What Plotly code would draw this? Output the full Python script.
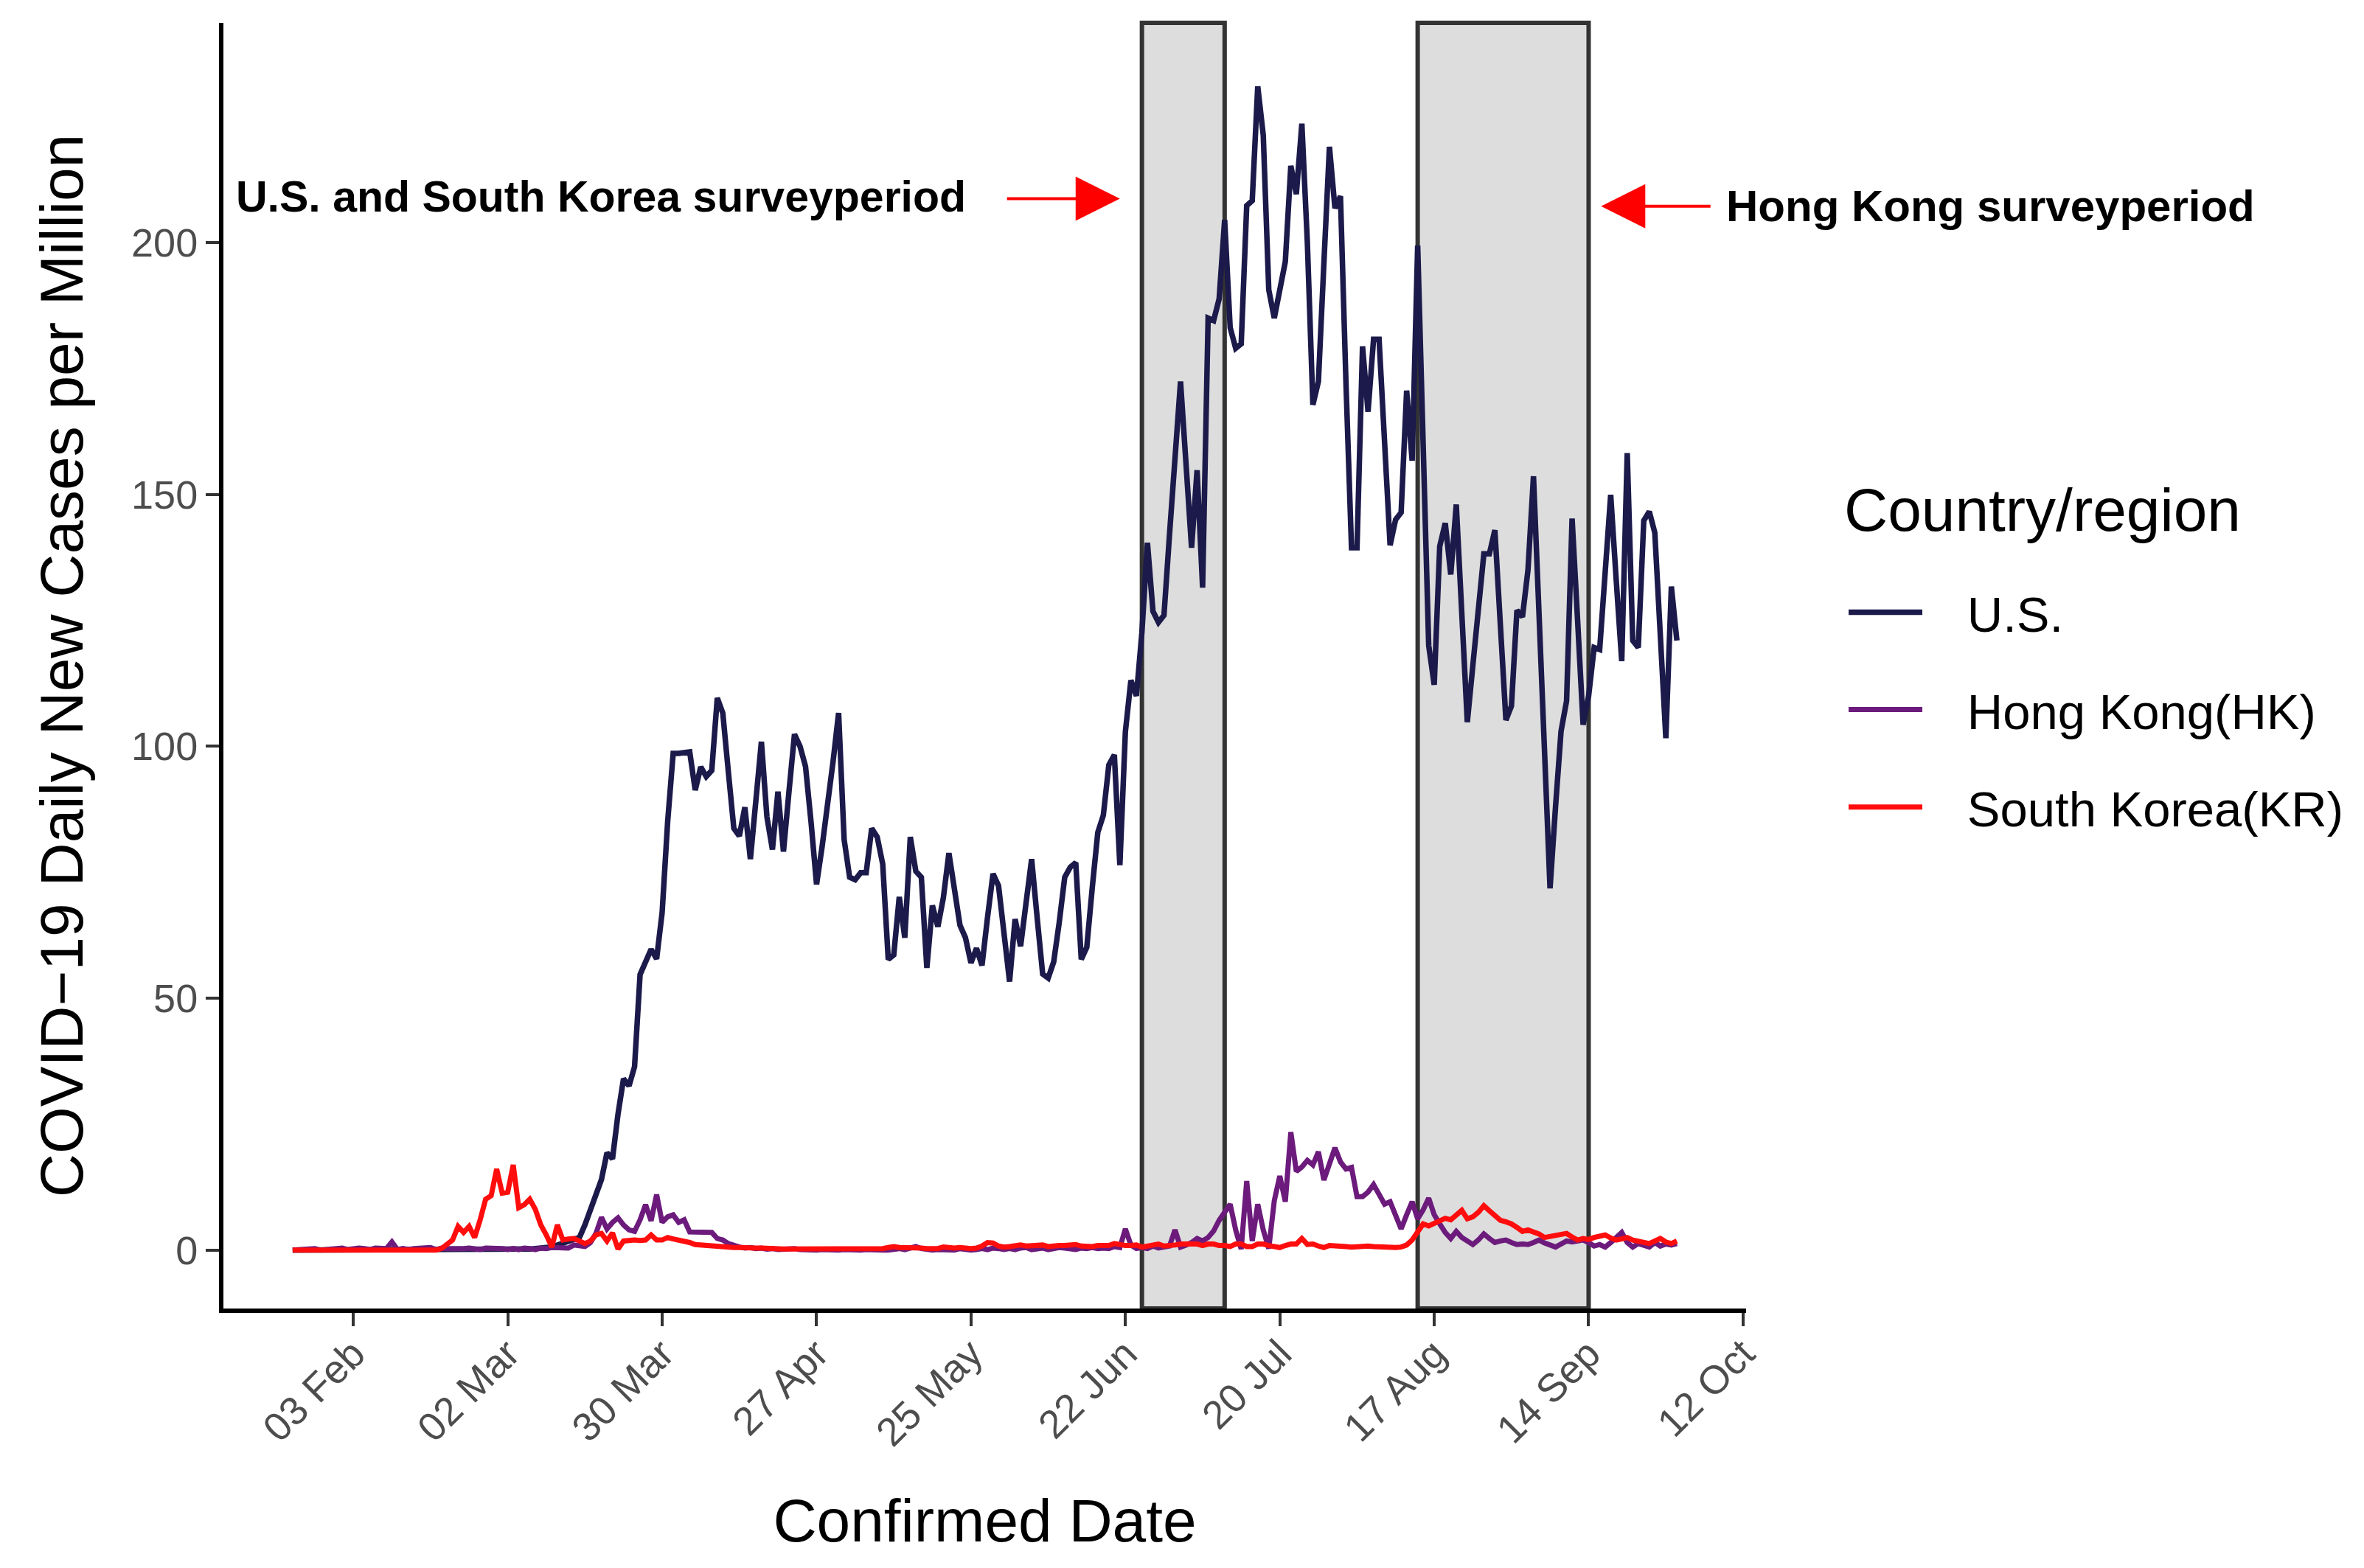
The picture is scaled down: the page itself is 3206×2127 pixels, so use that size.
import pandas as pd
import plotly.graph_objects as go

# daily new cases per million, 23 Jan - 30 Sep 2020
dates = pd.date_range("2020-01-23", "2020-09-30", freq="D")

us_cases = [
    0, 0, 0, 0, 0, 0, 0, 0, 0,  # Jan
    0, 0, 0, 0, 0, 0, 0, 0, 0, 0, 0, 0, 0, 0, 0, 0, 0, 0, 0, 0, 0, 0, 0, 0, 0, 0, 0, 0, 0,  # Feb
    0.0, 0.0, 0.1, 0.1, 0.2, 0.2, 0.3, 0.3, 0.5, 0.6, 1.0, 1.3, 1.7, 2.0, 2.5, 5.0, 8.0, 10.5, 14.0, 19.3,
    18.1, 27.0, 34.0, 32.6, 36.4, 54.7, 57.0, 59.7, 57.8, 67.0, 85.0,  # Mar
    98.6, 98.6, 98.8, 98.9, 91.3, 95.9, 94.0, 95.2, 109.6, 106.6, 95.0, 83.7, 82.2, 87.9, 77.6,
    89.0, 100.9, 86.0, 79.5, 91.0, 79.1, 91.0, 102.4, 100.0, 96.0, 85.0, 72.6, 80.0, 88.0, 97.0,  # Apr
    106.6, 81.5, 74.0, 73.5, 74.9, 74.9, 83.7, 82.0, 76.6, 57.7, 58.6, 70.1, 62.0, 82.0, 75.2, 74.0,
    56.0, 68.4, 64.2, 70.0, 78.8, 72.0, 64.5, 62.0, 57.0, 59.9, 56.5, 66.0, 74.7, 72.3, 62.0,  # May
    53.3, 65.7, 60.3, 69.0, 77.6, 66.0, 54.8, 54.0, 57.2, 65.0, 74.0, 76.0, 76.9, 57.7, 60.1,
    72.0, 82.9, 86.3, 96.3, 98.3, 76.4, 102.9, 113.1, 110.0, 122.7, 140.4, 126.8, 124.6, 126.0, 142.0,  # Jun
    157.0, 172.4, 156.0, 139.4, 154.8, 131.5, 185.0, 184.5, 188.8, 204.5, 183.1, 179.0, 179.9, 207.3, 208.3, 231.0,
    221.3, 190.6, 185.0, 190.6, 196.2, 215.2, 209.6, 223.6, 199.9, 167.8, 172.4, 196.0, 219.0, 206.8, 209.2,  # Jul
    172.0, 139.4, 139.4, 179.4, 166.4, 180.8, 180.8, 160.0, 139.9, 145.0, 146.4, 170.6, 156.7, 199.4, 155.0, 120.0,
    112.2, 139.7, 144.3, 134.1, 148.0, 126.0, 104.8, 116.0, 127.0, 138.2, 138.2, 142.9, 124.0, 105.2, 108.0,  # Aug
    127.0, 125.7, 135.0, 153.6, 126.0, 99.0, 71.8, 88.0, 103.0, 109.0, 145.2, 125.0, 104.3, 110.0, 119.6,
    119.2, 134.0, 149.9, 133.0, 116.9, 158.2, 121.0, 119.6, 144.8, 146.6, 142.4, 122.0, 101.6, 131.7, 121.0,  # Sep
]

hk_cases = [
    0.0, 0.1, 0.1, 0.1, 0.3, 0.0, 0.1, 0.0, 0.1,  # Jan
    0.4, 0.1, 0.3, 0.4, 0.3, 0.1, 0.4, 0.3, 0.3, 1.6, 0.1, 0.3, 0.1, 0.3, 0.4,
    0.3, 0.5, 0.1, 0.4, 0.3, 0.3, 0.1, 0.3, 0.4, 0.3, 0.1, 0.4, 0.4, 0.3,  # Feb
    0.3, 0.1, 0.3, 0.1, 0.4, 0.3, 0.1, 0.4, 0.3, 0.5, 0.4, 0.3, 0.4, 1.0, 0.8, 0.7,
    1.5, 3.3, 6.5, 4.2, 5.5, 6.4, 5.0, 4.0, 3.7, 6.0, 9.0, 5.8, 11.0, 5.5, 6.6,  # Mar
    7.0, 5.5, 6.0, 3.6, 3.6, 3.7, 3.6, 3.5, 2.3, 2.0, 1.3, 0.9, 0.6, 0.4, 0.5,
    0.3, 0.4, 0.2, 0.3, 0.1, 0.2, 0.1, 0.3, 0.1, 0.0, 0.1, 0.0, 0.1, 0.0, 0.1,  # Apr
    0.0, 0.1, 0.0, 0.1, 0.0, 0.1, 0.0, 0.1, 0.0, 0.0, 0.1, 0.3, 0.1, 0.5, 0.7, 0.3,
    0.1, 0.0, 0.1, 0.0, 0.1, 0.0, 0.3, 0.1, 0.0, 0.1, 0.3, 0.1, 0.4, 0.3, 0.1,  # May
    0.3, 0.1, 0.4, 0.5, 0.1, 0.3, 0.4, 0.1, 0.3, 0.5, 0.4, 0.3, 0.1, 0.4, 0.3,
    0.5, 0.3, 0.4, 0.3, 0.7, 0.5, 4.2, 1.0, 0.3, 0.5, 0.3, 0.8, 0.4, 0.5, 0.8,  # Jun
    4.0, 0.6, 1.0, 1.5, 2.3, 1.8, 2.5, 3.8, 5.9, 7.5, 9.1, 4.0, 0.2, 13.7, 1.8, 9.1,
    4.0, 0.3, 9.8, 14.7, 9.6, 23.4, 15.6, 16.5, 17.8, 16.9, 19.5, 13.9, 17.0, 20.3, 17.5,  # Jul
    16.1, 16.4, 10.6, 10.6, 11.5, 13.0, 11.0, 9.1, 9.6, 7.0, 4.2, 7.0, 9.6, 6.2, 8.0, 10.3,
    7.0, 5.2, 3.5, 2.3, 3.7, 2.5, 1.8, 1.1, 2.0, 3.2, 2.3, 1.5, 1.8, 2.0, 1.5,  # Aug
    1.1, 1.2, 1.1, 1.5, 2.0, 1.4, 0.9, 0.6, 1.2, 1.8, 1.6, 1.9, 2.0, 1.5, 0.8,
    1.1, 0.6, 1.5, 2.5, 3.5, 1.5, 0.6, 1.3, 0.9, 0.6, 1.5, 0.8, 1.2, 1.0, 1.3,  # Sep
]

kr_cases = [
    0.0, 0.0, 0.0, 0.0, 0.0, 0.0, 0.0, 0.0, 0.0,  # Jan
    0.0, 0.1, 0.0, 0.0, 0.0, 0.0, 0.0, 0.0, 0.0, 0.0, 0.0, 0.0, 0.0, 0.0, 0.0,
    0.0, 0.0, 0.0, 0.3, 1.0, 2.0, 4.7, 3.5, 4.7, 2.5, 6.0, 10.1, 10.8, 16.1,  # Feb
    11.3, 11.5, 16.9, 8.4, 9.0, 10.1, 8.1, 5.0, 3.0, 0.6, 5.0, 2.0, 2.2, 2.3, 1.8, 1.3,
    1.8, 3.0, 3.3, 1.8, 3.4, 0.2, 1.8, 2.0, 2.0, 1.9, 2.0, 3.0, 2.0, 2.0, 2.5,  # Mar
    2.2, 2.0, 1.8, 1.5, 1.1, 1.0, 0.9, 0.7, 0.6, 0.5, 0.6, 0.5, 0.5, 0.4, 0.5,
    0.4, 0.4, 0.3, 0.3, 0.2, 0.2, 0.2, 0.2, 0.2, 0.2, 0.2, 0.2, 0.3, 0.2, 0.2,  # Apr
    0.2, 0.3, 0.3, 0.2, 0.1, 0.1, 0.1, 0.2, 0.3, 0.5, 0.7, 0.5, 0.5, 0.6, 0.5, 0.4,
    0.3, 0.3, 0.3, 0.6, 0.4, 0.4, 0.5, 0.3, 0.3, 0.4, 0.8, 1.5, 1.4, 0.8, 0.6,  # May
    0.7, 0.8, 1.0, 0.8, 0.8, 0.9, 1.0, 0.7, 0.9, 0.9, 0.9, 1.0, 1.1, 0.8, 0.7,
    0.7, 0.9, 1.0, 0.9, 1.3, 1.0, 0.9, 0.9, 1.0, 0.6, 0.8, 1.0, 1.2, 0.8, 0.8,  # Jun
    1.0, 1.2, 1.2, 1.2, 1.2, 0.9, 1.2, 1.2, 0.9, 0.9, 0.7, 1.2, 1.2, 0.7, 0.7, 1.2,
    1.2, 0.9, 0.7, 0.5, 0.9, 1.2, 1.2, 2.3, 1.1, 1.2, 0.8, 0.5, 0.9, 0.9, 0.7,  # Jul
    0.7, 0.6, 0.7, 0.6, 0.8, 0.7, 0.6, 0.7, 0.6, 0.5, 0.6, 1.0, 2.0, 3.5, 5.2, 4.8,
    5.3, 5.7, 6.3, 6.0, 6.8, 7.9, 6.2, 6.6, 7.5, 8.8, 7.8, 6.8, 5.9, 5.6, 5.2,  # Aug
    4.5, 3.7, 4.0, 3.6, 3.2, 2.5, 2.7, 3.0, 3.2, 3.3, 2.6, 2.0, 2.3, 2.1, 2.5,
    2.8, 3.0, 2.4, 2.0, 2.2, 2.5, 2.0, 1.8, 1.5, 1.3, 1.8, 2.3, 1.6, 1.3, 1.8,  # Sep
]

series_names = ["U.S.", "Hong Kong(HK)", "South Korea(KR)"]
series_colors = ["#1B1A4A", "#6C1B7C", "#FF0D0D"]
series_widths = [7.5, 7, 7]

survey_periods = [("2020-06-25", "2020-07-10"), ("2020-08-14", "2020-09-14")]

tick_dates = ["2020-02-03", "2020-03-02", "2020-03-30", "2020-04-27", "2020-05-25",
              "2020-06-22", "2020-07-20", "2020-08-17", "2020-09-14", "2020-10-12"]
tick_labels = ["03 Feb", "02 Mar", "30 Mar", "27 Apr", "25 May",
               "22 Jun", "20 Jul", "17 Aug", "14 Sep", "12 Oct"]
y_ticks = [0, 50, 100, 150, 200]

FONT = "Liberation Sans, Arial, sans-serif"
GAP = "\u00a0\u00a0\u00a0"  # space between legend key and label

fig = go.Figure()

for name, values, color, w in zip(series_names, [us_cases, hk_cases, kr_cases], series_colors, series_widths):
    fig.add_trace(go.Scatter(
        x=dates,
        y=values,
        mode="lines",
        name=GAP + name,
        legendgroup=name,
        line=dict(color=color, width=w),
    ))

# survey period boxes
for start, end in survey_periods:
    fig.add_shape(
        type="rect", xref="x", yref="paper",
        x0=start, x1=end, y0=0, y1=1,
        fillcolor="#DDDDDD",
        line=dict(color="#333333", width=6),
        layer="below",
    )

# labels and arrows
fig.add_annotation(
    x="2020-01-12 11:00", y=209.0, xref="x", yref="y",
    text="<b>U.S. and South Korea surveyperiod</b>",
    showarrow=False, xanchor="left", yanchor="middle",
    font=dict(family=FONT, size=59, color="black"),
)
fig.add_annotation(
    x="2020-06-21 00:00", y=208.7, ax="2020-05-31 08:00", ay=208.7,
    xref="x", yref="y", axref="x", ayref="y",
    text="", showarrow=True, arrowhead=2, arrowsize=3.0, arrowwidth=4, arrowcolor="#FF0000",
)
fig.add_annotation(
    x="2020-10-08 17:00", y=207.2, xref="x", yref="y",
    text="<b>Hong Kong surveyperiod</b>",
    showarrow=False, xanchor="left", yanchor="middle",
    font=dict(family=FONT, size=60, color="black"),
)
fig.add_annotation(
    x="2020-09-16 06:00", y=207.2, ax="2020-10-06 07:00", ay=207.2,
    xref="x", yref="y", axref="x", ayref="y",
    text="", showarrow=True, arrowhead=2, arrowsize=3.0, arrowwidth=4, arrowcolor="#FF0000",
)

# legend title
fig.add_annotation(
    x=1.0634, y=0.6215, xref="paper", yref="paper",
    text="Country/region", showarrow=False,
    xanchor="left", yanchor="middle",
    font=dict(family=FONT, size=82, color="black"),
)

# page body adds an 8px offset, so the figure is 8px smaller
fig.update_layout(
    width=3198,
    height=2119,
    margin=dict(l=295, r=838, t=23, b=352),
    paper_bgcolor="white",
    plot_bgcolor="white",
    font=dict(family=FONT, color="black"),
    legend=dict(
        font=dict(size=67),
        x=1.0649, xanchor="left",
        y=0.5703, yanchor="top",
        traceorder="grouped",
        tracegroupgap=42,
        itemwidth=100,
        bgcolor="rgba(0,0,0,0)",
    ),
)

fig.update_xaxes(
    type="date",
    range=["2020-01-10 10:48", "2020-10-12 13:12"],
    tickvals=tick_dates,
    ticktext=tick_labels,
    tickangle=-45,
    ticks="outside", ticklen=18, tickwidth=4, tickcolor="#333333",
    tickfont=dict(size=54, color="#4D4D4D"),
    ticklabelstandoff=-16,
    showline=True, linecolor="black", linewidth=6,
    showgrid=False, zeroline=False,
    title=dict(text="Confirmed Date", font=dict(size=82), standoff=64),
)
fig.update_yaxes(
    range=[-11.6, 243.6],
    tickvals=y_ticks,
    ticks="outside", ticklen=18, tickwidth=4, tickcolor="#333333",
    tickfont=dict(size=54, color="#4D4D4D"),
    showline=True, linecolor="black", linewidth=6,
    showgrid=False, zeroline=False,
    title=dict(text="COVID\u221219 Daily New Cases per Million", font=dict(size=82), standoff=40),
)

fig.write_html("out.html")
